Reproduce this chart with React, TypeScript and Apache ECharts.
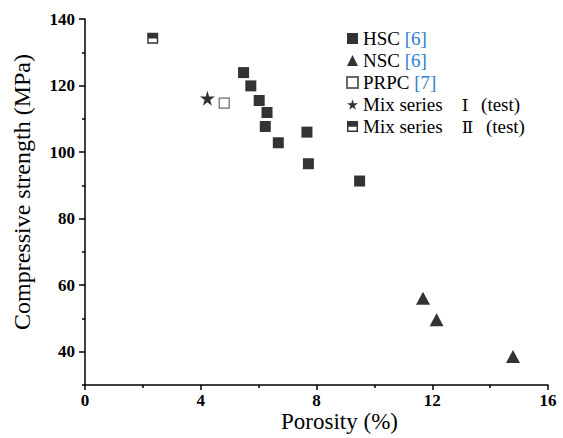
import React, { useEffect, useRef } from "react";
import * as echarts from "echarts";

const hscData: [number, number][] = [
  [5.48, 123.9], [5.73, 119.9], [6.02, 115.5], [6.29, 111.9], [6.23, 107.7],
  [6.68, 102.8], [7.67, 106.0], [7.72, 96.5], [9.49, 91.3],
];
const nscData: [number, number][] = [[11.68, 56.1], [12.15, 49.6], [14.79, 38.6]];
const prpcData: [number, number][] = [[4.81, 114.7]];
const mix1Data: [number, number][] = [[4.23, 116.2]];
const mix2Data: [number, number][] = [[2.34, 134.2]];

const seriesNames = ["HSC", "NSC", "PRPC", "Mix series Ⅰ (test)", "Mix series Ⅱ (test)"];
const seriesRefs = ["[6]", "[6]", "[7]", "", ""];

const yMajor = [40, 60, 80, 100, 120, 140];
const yMinor = [30, 50, 70, 90, 110, 130];

const FONT = "Liberation Serif, serif";
const NUMFONT = "DejaVu Serif, Liberation Serif, serif";
const STAR = "path://M50,0 L61,35 L98,35 L68,57 L79,91 L50,70 L21,91 L32,57 L2,35 L39,35 Z";
const HALF = "path://M0,0 H10 V10 H0 Z M1.3,5.2 V8.7 H8.7 V5.2 Z";

function legendLabel(name: string, refText: string): string {
  const m = name.match(/^(.*) ([ⅠⅡ]) (.*)$/);
  if (m) return `{n|${m[1]}\u2003}{m|${m[2]}}{n|\u2002\u2006${m[3]}}`;
  return refText ? `{n|${name}} {r|${refText}}` : `{n|${name}}`;
}

export default function App() {
  const ref = useRef<HTMLDivElement>(null);
  useEffect(() => {
    if (!ref.current) return;
    const chart = echarts.init(ref.current, null, { renderer: "svg" });
    const axisLine = { show: true, lineStyle: { color: "#000", width: 1.5 } };
    const refMap: Record<string, string> = {};
    seriesNames.forEach((n, i) => (refMap[n] = seriesRefs[i]));
    chart.setOption({
      animation: false,
      backgroundColor: "#fff",
      grid: { left: 85, right: 15, top: 19, bottom: 53, outerBoundsMode: "none" },
      legend: {
        orient: "vertical",
        left: 341,
        top: 24,
        itemGap: 3,
        itemWidth: 11,
        itemHeight: 11,
        data: seriesNames,
        formatter: (name: string) => legendLabel(name, refMap[name]),
        textStyle: {
          fontFamily: FONT,
          fontSize: 19,
          color: "#000",
          rich: {
            n: { fontFamily: FONT, fontSize: 19, color: "#000" },
            m: { fontFamily: NUMFONT, fontSize: 17, color: "#000" },
            r: { fontFamily: FONT, fontSize: 19, color: "#2f80d0" },
          },
        },
      },
      xAxis: {
        type: "value",
        min: 0,
        max: 16,
        interval: 4,
        name: "Porosity (%)",
        nameLocation: "middle",
        nameGap: 27,
        nameMoveOverlap: false,
        nameTextStyle: { fontFamily: FONT, fontSize: 23, lineHeight: 18, color: "#000", padding: [0, 0, 0, 46] },
        axisLine,
        axisTick: { show: true, inside: false, length: 5, lineStyle: { color: "#000", width: 1.5 } },
        minorTick: { show: true, splitNumber: 2, length: 3, lineStyle: { color: "#000", width: 1.5 } },
        axisLabel: { fontFamily: FONT, fontSize: 17, lineHeight: 14, fontWeight: "bold", color: "#000", margin: 8 },
        splitLine: { show: false },
      },
      yAxis: [
        {
          type: "value",
          min: 30,
          max: 140,
          name: "Compressive strength (MPa)",
          nameLocation: "middle",
          nameGap: 51,
          nameMoveOverlap: false,
          nameTextStyle: { fontFamily: FONT, fontSize: 24, color: "#000", padding: [0, 0, 0, 20] },
          axisLine,
          axisTick: { show: true, inside: false, length: 6, customValues: yMajor, lineStyle: { color: "#000", width: 1.5 } },
          axisLabel: { fontFamily: FONT, fontSize: 17, fontWeight: "bold", color: "#000", margin: 10, customValues: yMajor },
          splitLine: { show: false },
        },
        {
          type: "value",
          min: 30,
          max: 140,
          position: "left",
          axisLine: { show: false },
          axisTick: { show: true, inside: false, length: 3, customValues: yMinor, lineStyle: { color: "#000", width: 1.5 } },
          axisLabel: { show: false },
          splitLine: { show: false },
        },
      ],
      series: [
        { name: seriesNames[0], type: "scatter", data: hscData, symbol: "rect", symbolSize: 11, itemStyle: { color: "#000" } },
        { name: seriesNames[1], type: "scatter", data: nscData, symbol: "triangle", symbolSize: [14, 13], itemStyle: { color: "#000" } },
        { name: seriesNames[2], type: "scatter", data: prpcData, symbol: "rect", symbolSize: 10, itemStyle: { color: "#fff", borderColor: "#444", borderWidth: 1.2 } },
        { name: seriesNames[3], type: "scatter", data: mix1Data, symbol: STAR, symbolSize: 15, itemStyle: { color: "#000" } },
        { name: seriesNames[4], type: "scatter", data: mix2Data, symbol: HALF, symbolSize: 11, itemStyle: { color: "#000" } },
      ],
    });
    return () => chart.dispose();
  }, []);
  return <div ref={ref} style={{ position: "fixed", left: 0, top: 0, width: 563, height: 438 }} />;
}
